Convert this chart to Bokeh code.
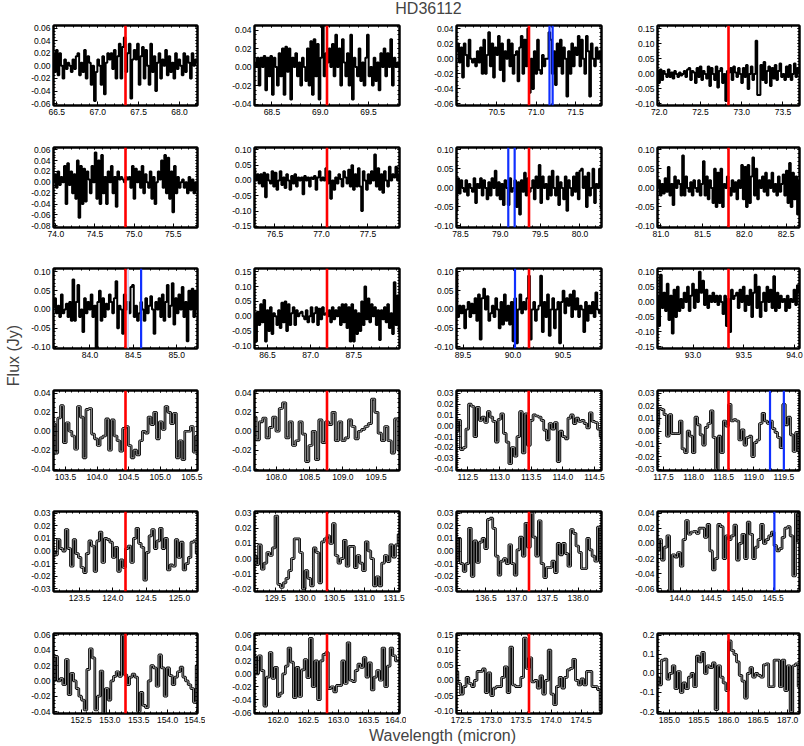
import numpy as np
from math import pi
from bokeh.plotting import figure
from bokeh.layouts import column, row
from bokeh.models import Range1d, FixedTicker, PrintfTickFormatter, LinearAxis, Label, Span
from bokeh.embed import file_html
from bokeh.resources import INLINE

titles = ["CO 39-38", "CO 38-37", "CO 37-36", "CO 36-35",
          "CO 35-34", "CO 34-33", "CO 33-32", "CO 32-31",
          "CO 31-30", "CO 30-29", "CO 29-28", "CO 28-27",
          "CO 25-24", "CO 24-23", "CO 23-22", "CO 22-21",
          "CO 21-20", "CO 20-19", "CO 19-18", "CO 18-17",
          "CO 17-16", "CO 16-15", "CO 15-14", "CO 14-13"]
line_centers = [67.34, 69.07, 70.91, 72.84, 74.89, 77.06, 79.36, 81.81,
                84.41, 87.19, 90.16, 93.35, 104.45, 108.76, 113.46, 118.58,
                124.19, 130.37, 137.20, 144.78, 153.27, 162.81, 173.63, 186.00]
x_lo = [66.46, 68.32, 69.99, 71.98, 73.97, 76.28, 78.45, 80.96,
        83.58, 86.35, 89.435, 92.65, 103.31, 107.67, 112.32, 117.40,
        123.11, 129.15, 136.02, 143.635, 152.02, 161.61, 172.42, 184.80]
x_hi = [68.22, 69.82, 71.83, 73.70, 75.81, 77.84, 80.27, 82.66,
        85.24, 88.03, 90.885, 94.05, 105.59, 109.85, 114.61, 119.76,
        125.27, 131.59, 138.38, 145.925, 154.52, 164.01, 174.84, 187.20]
y_lo = [-0.063, -0.0415, -0.062, -0.105, -0.083, -0.154, -0.104, -0.104,
        -0.104, -0.109, -0.104, -0.155, -0.0414, -0.0414, -0.0412, -0.031,
        -0.032, -0.0217, -0.032, -0.0634, -0.0426, -0.0615, -0.109, -0.21]
y_hi = [0.064, 0.045, 0.044, 0.161, 0.064, 0.108, 0.106, 0.106,
        0.109, 0.161, 0.109, 0.111, 0.043, 0.043, 0.0325, 0.032,
        0.0313, 0.031, 0.0313, 0.042, 0.062, 0.0625, 0.155, 0.209]
x_ticks = [[66.5, 67.0, 67.5, 68.0], [68.5, 69.0, 69.5], [70.5, 71.0, 71.5], [72.0, 72.5, 73.0, 73.5],
           [74.0, 74.5, 75.0, 75.5], [76.5, 77.0, 77.5], [78.5, 79.0, 79.5, 80.0], [81.0, 81.5, 82.0, 82.5],
           [84.0, 84.5, 85.0], [86.5, 87.0, 87.5], [89.5, 90.0, 90.5], [93.0, 93.5, 94.0],
           [103.5, 104.0, 104.5, 105.0, 105.5], [108.0, 108.5, 109.0, 109.5],
           [112.5, 113.0, 113.5, 114.0, 114.5], [117.5, 118.0, 118.5, 119.0, 119.5],
           [123.5, 124.0, 124.5, 125.0], [129.5, 130.0, 130.5, 131.0, 131.5],
           [136.5, 137.0, 137.5, 138.0], [144.0, 144.5, 145.0, 145.5],
           [152.5, 153.0, 153.5, 154.0, 154.5], [162.0, 162.5, 163.0, 163.5, 164.0],
           [172.5, 173.0, 173.5, 174.0, 174.5], [185.0, 185.5, 186.0, 186.5, 187.0]]
y_ticks = [[-0.06, -0.04, -0.02, 0.0, 0.02, 0.04, 0.06], [-0.04, -0.02, 0.0, 0.02, 0.04],
           [-0.06, -0.04, -0.02, 0.0, 0.02, 0.04], [-0.10, -0.05, 0.0, 0.05, 0.10, 0.15],
           [-0.08, -0.06, -0.04, -0.02, 0.0, 0.02, 0.04, 0.06], [-0.15, -0.10, -0.05, 0.0, 0.05, 0.10],
           [-0.10, -0.05, 0.0, 0.05, 0.10], [-0.10, -0.05, 0.0, 0.05, 0.10],
           [-0.10, -0.05, 0.0, 0.05, 0.10], [-0.10, -0.05, 0.0, 0.05, 0.10, 0.15],
           [-0.10, -0.05, 0.0, 0.05, 0.10], [-0.15, -0.10, -0.05, 0.0, 0.05, 0.10],
           [-0.04, -0.02, 0.0, 0.02, 0.04], [-0.04, -0.02, 0.0, 0.02, 0.04],
           [-0.04, -0.03, -0.02, -0.01, 0.0, 0.01, 0.02, 0.03], [-0.03, -0.02, -0.01, 0.0, 0.01, 0.02, 0.03],
           [-0.03, -0.02, -0.01, 0.0, 0.01, 0.02, 0.03], [-0.02, -0.01, 0.0, 0.01, 0.02, 0.03],
           [-0.03, -0.02, -0.01, 0.0, 0.01, 0.02, 0.03], [-0.06, -0.04, -0.02, 0.0, 0.02, 0.04],
           [-0.04, -0.02, 0.0, 0.02, 0.04, 0.06], [-0.06, -0.04, -0.02, 0.0, 0.02, 0.04, 0.06],
           [-0.10, -0.05, 0.0, 0.05, 0.10, 0.15], [-0.2, -0.1, 0.0, 0.1, 0.2]]
y_formats = ["%.2f"] * 23 + ["%.1f"]
blue_lines = [[], [], [71.17, 71.21], [], [], [], [79.10, 79.18], [],
              [84.59], [], [90.02], [], [], [], [], [119.27, 119.50],
              [], [], [], [145.52], [], [], [], []]
faint_lines = [[], [], [], [], [], [], [], [],
               [84.44], [], [], [], [], [], [], [],
               [], [], [], [], [], [], [], []]

flux_01 = [0.02, -0.01, 0.025, -0.015, 0.02, 0.0, -0.02, 0.01, -0.005, 0.005, 0.0, -0.01, 0.01, -0.005, 0.015, 0.02, -0.015, 0.005, -0.01, 0.025, -0.02, 0.015, 0.005, -0.03, 0.0, -0.056, -0.01, 0.01, 0.0, -0.03, 0.015, -0.045, 0.005, 0.02, 0.01, 0.02, -0.005, 0.025, -0.02, 0.015, 0.035, -0.02, 0.03, 0.045, -0.01, 0.02, 0.035, -0.052, 0.01, 0.025, 0.01, 0.035, -0.03, 0.015, 0.03, -0.02, 0.025, 0.0, -0.03, 0.035, -0.01, 0.015, -0.04, 0.005, 0.02, -0.02, 0.01, 0.0, 0.025, -0.015, 0.015, -0.01, 0.005, -0.02, 0.02, -0.005, 0.01, 0.0, -0.015, 0.02, -0.01, 0.015, 0.005, -0.02, 0.02, 0.0, 0.01, 0.005]
flux_02 = [0.005, 0.0, 0.01, -0.02, 0.01, 0.0, 0.012, -0.025, 0.01, -0.01, 0.012, -0.03, 0.01, 0.0, -0.02, 0.015, -0.01, 0.02, -0.03, 0.022, -0.005, 0.02, -0.035, 0.01, 0.0, 0.015, -0.01, 0.005, -0.02, 0.01, 0.0, -0.015, 0.02, -0.02, 0.028, -0.03, 0.03, -0.01, 0.025, -0.035, 0.01, 0.045, -0.01, 0.015, 0.005, 0.02, 0.0, 0.025, -0.01, 0.035, 0.0, 0.02, -0.02, 0.03, 0.005, -0.01, 0.015, -0.02, 0.035, -0.035, 0.01, 0.0, -0.01, 0.02, -0.015, 0.005, -0.02, 0.01, 0.035, -0.01, 0.0, -0.02, 0.01, -0.015, 0.005, -0.025, 0.015, 0.0, 0.02, -0.01, 0.015, 0.0, 0.03, -0.02, 0.01, 0.0, 0.005, 0.0]
flux_03 = [0.01, 0.02, -0.005, 0.015, -0.025, 0.02, 0.005, -0.01, 0.025, 0.0, -0.005, 0.0, -0.01, 0.01, -0.005, 0.015, -0.02, 0.025, -0.02, 0.005, 0.035, -0.01, 0.02, -0.025, 0.015, 0.005, 0.03, -0.015, 0.02, -0.03, 0.01, 0.0, 0.025, -0.01, 0.02, -0.02, 0.005, 0.01, -0.03, 0.015, 0.03, -0.02, 0.025, -0.01, 0.04, -0.045, 0.0, -0.04, 0.01, -0.02, 0.025, -0.015, -0.02, 0.005, -0.01, 0.0, 0.0, 0.035, 0.025, -0.02, 0.01, -0.035, 0.02, -0.01, 0.025, -0.02, 0.015, 0.0, -0.05, 0.01, -0.02, 0.02, -0.01, 0.015, 0.005, 0.03, -0.01, 0.025, 0.0, -0.02, 0.03, 0.01, -0.05, 0.02, 0.0, -0.01, 0.015, 0.0, 0.01, -0.005]
flux_04 = [0.01, -0.03, 0.015, -0.02, 0.01, 0.0, -0.01, 0.015, -0.01, 0.005, -0.015, 0.01, 0.0, -0.01, 0.005, -0.005, 0.0, 0.01, -0.01, 0.015, 0.02, -0.02, 0.01, 0.005, -0.03, 0.02, -0.01, 0.025, -0.02, 0.01, 0.0, -0.015, 0.025, -0.04, 0.02, 0.0, -0.02, 0.025, -0.045, 0.01, 0.02, -0.03, 0.0, -0.09, 0.01, 0.005, 0.02, -0.02, 0.025, 0.005, -0.01, 0.02, 0.0, -0.03, 0.02, -0.01, 0.03, -0.05, 0.0, 0.025, -0.02, 0.0, 0.11, -0.07, -0.07, 0.03, -0.02, 0.04, -0.03, 0.01, 0.025, -0.04, 0.02, -0.015, 0.03, -0.02, 0.01, 0.035, -0.01, 0.0, -0.02, 0.025, -0.01, 0.03, -0.02, 0.0, 0.035, -0.01, 0.02, 0.005]
flux_05 = [0.0, 0.015, -0.01, 0.02, -0.005, 0.01, 0.0, 0.03, -0.04, 0.035, -0.005, 0.02, -0.02, 0.015, -0.03, 0.04, -0.065, 0.03, -0.04, 0.025, -0.035, 0.02, 0.005, -0.02, 0.03, 0.0, 0.055, -0.03, 0.04, -0.04, 0.05, -0.02, 0.01, -0.04, 0.02, 0.0, 0.03, -0.02, 0.01, -0.045, 0.02, 0.005, 0.01, 0.005, 0.0, 0.01, 0.005, 0.01, -0.01, 0.03, -0.03, 0.025, 0.0, 0.02, -0.01, 0.03, -0.02, 0.015, 0.0, -0.01, 0.02, -0.03, 0.01, -0.04, 0.0, 0.02, 0.005, 0.04, -0.01, 0.05, -0.02, 0.045, -0.03, 0.02, -0.055, 0.03, -0.02, 0.01, -0.01, 0.0, 0.005, -0.01, 0.0, -0.02, 0.01, -0.015, 0.005, -0.02, 0.0, -0.015]
flux_06 = [0.035, 0.0, 0.02, -0.01, 0.02, -0.02, 0.025, -0.055, 0.02, 0.0, -0.01, 0.03, -0.02, 0.025, -0.03, 0.0, 0.03, -0.015, 0.01, -0.025, 0.02, 0.0, -0.03, 0.015, -0.01, 0.02, -0.02, 0.01, 0.0, 0.01, -0.045, 0.015, 0.0, 0.01, -0.02, 0.01, 0.005, 0.015, -0.03, 0.01, 0.03, 0.0, 0.01, 0.0, 0.04, -0.01, 0.03, -0.06, 0.0, -0.03, 0.01, -0.01, 0.02, 0.005, -0.02, 0.03, 0.01, -0.01, 0.035, -0.02, 0.05, -0.03, 0.02, -0.02, 0.04, -0.02, -0.1, 0.03, 0.0, -0.03, 0.02, -0.01, 0.03, 0.0, 0.085, -0.02, 0.04, -0.03, 0.02, -0.04, 0.03, 0.0, -0.02, 0.045, 0.0, 0.02, 0.01, 0.045, 0.0, 0.02]
flux_07 = [-0.06, 0.025, -0.015, 0.02, 0.0, -0.01, 0.02, -0.02, 0.01, 0.0, -0.01, 0.025, -0.04, 0.01, 0.0, 0.025, -0.02, 0.02, 0.0, -0.03, 0.015, -0.02, 0.025, 0.0, 0.045, -0.02, 0.015, -0.03, 0.01, -0.045, 0.02, 0.0, -0.045, 0.025, -0.01, 0.0, 0.02, -0.05, 0.015, -0.07, 0.02, -0.01, 0.04, -0.02, 0.025, -0.01, 0.0, 0.02, -0.03, 0.03, 0.0, 0.06, -0.04, 0.03, 0.0, 0.01, -0.03, 0.03, -0.02, 0.045, 0.0, -0.02, 0.03, -0.045, 0.015, 0.0, -0.03, 0.03, -0.06, 0.02, 0.0, -0.02, 0.03, -0.01, 0.04, -0.03, 0.045, 0.05, 0.0, 0.03, -0.05, 0.04, -0.02, 0.0, 0.05, -0.04, 0.01, 0.0, 0.05, -0.055]
flux_08 = [0.0, 0.02, -0.02, 0.01, -0.015, 0.025, -0.01, 0.055, -0.02, 0.01, -0.045, 0.03, 0.0, 0.02, 0.01, -0.02, 0.085, -0.02, 0.03, 0.0, -0.01, 0.015, -0.02, 0.02, 0.0, -0.01, 0.02, -0.02, 0.01, 0.07, -0.02, 0.03, -0.03, 0.02, 0.0, -0.04, 0.05, -0.05, 0.04, -0.04, 0.05, -0.05, 0.01, 0.0, 0.03, 0.0, -0.02, 0.02, -0.01, 0.015, -0.03, 0.02, 0.0, 0.06, -0.03, 0.055, -0.05, 0.06, -0.04, 0.03, 0.08, -0.02, 0.05, -0.03, 0.02, 0.0, 0.03, -0.01, 0.04, -0.02, 0.02, 0.0, 0.04, -0.01, 0.01, -0.02, 0.03, -0.01, 0.01, 0.035, -0.02, 0.045, -0.04, 0.065, -0.05, 0.04, -0.03, 0.03, -0.07, 0.02]
flux_09 = [0.005, 0.03, -0.01, 0.01, -0.02, 0.04, -0.01, 0.0, 0.015, -0.02, 0.02, -0.03, 0.08, -0.03, 0.02, 0.065, -0.02, 0.0, -0.06, 0.03, -0.01, 0.02, 0.0, 0.04, -0.02, 0.01, -0.105, 0.02, 0.05, -0.03, 0.03, -0.02, 0.015, 0.0, 0.04, 0.02, -0.01, 0.03, 0.075, -0.05, 0.01, 0.0, -0.065, 0.04, 0.0, 0.02, -0.01, 0.06, 0.065, -0.02, 0.01, -0.03, -0.01, 0.02, 0.0, -0.03, 0.03, -0.01, 0.01, 0.035, 0.0, -0.065, 0.02, 0.0, 0.03, -0.02, 0.04, -0.03, 0.02, 0.065, -0.02, 0.01, 0.07, -0.04, 0.03, -0.01, 0.04, 0.0, 0.06, -0.02, 0.02, -0.085, 0.05, 0.0, 0.055, -0.02, 0.05, 0.0]
flux_10 = [0.01, -0.085, 0.015, -0.03, 0.04, -0.02, 0.055, -0.085, 0.02, -0.05, 0.03, -0.06, 0.01, 0.0, -0.03, 0.02, -0.04, 0.045, -0.02, 0.05, -0.05, 0.04, -0.03, 0.01, 0.03, -0.03, 0.02, 0.0, 0.01, 0.015, 0.0, -0.01, 0.02, -0.02, 0.0, 0.03, -0.02, 0.01, 0.03, -0.03, 0.025, -0.01, 0.03, 0.005, 0.01, 0.0, 0.02, -0.02, 0.03, -0.01, 0.02, 0.0, 0.03, -0.03, 0.04, -0.02, 0.04, -0.04, 0.03, -0.085, 0.04, -0.085, 0.02, -0.06, 0.01, -0.05, 0.05, -0.03, 0.1, -0.01, 0.06, -0.02, 0.04, 0.0, 0.03, -0.03, 0.02, -0.08, 0.02, -0.01, 0.03, -0.02, 0.04, -0.04, 0.01, -0.06, 0.115, -0.03, 0.07, -0.05]
flux_11 = [0.1, -0.02, 0.01, -0.01, 0.01, -0.05, 0.0, 0.02, -0.02, 0.015, -0.01, 0.03, -0.03, 0.04, -0.08, 0.03, 0.055, 0.0, 0.035, -0.03, -0.01, 0.01, -0.02, 0.03, 0.0, -0.05, 0.02, -0.04, 0.04, -0.03, 0.01, -0.04, 0.02, -0.085, 0.03, -0.09, 0.0, 0.04, -0.01, 0.02, 0.0, 0.03, 0.09, -0.08, 0.0, 0.02, -0.03, 0.0, 0.01, 0.09, -0.06, 0.02, -0.02, 0.04, -0.07, 0.0, 0.03, -0.05, 0.0, 0.02, -0.09, 0.02, 0.05, -0.01, 0.03, 0.01, 0.04, -0.02, 0.05, 0.0, 0.03, -0.02, 0.01, 0.0, -0.06, 0.02, -0.03, 0.01, -0.01, 0.02, -0.02, 0.045, 0.0, -0.01, 0.0]
flux_12 = [0.02, -0.08, 0.09, -0.02, 0.03, -0.03, 0.06, -0.06, 0.02, -0.105, 0.04, -0.05, 0.05, -0.03, 0.01, -0.02, 0.03, 0.0, 0.05, -0.03, 0.02, 0.06, -0.02, 0.04, 0.0, 0.1, 0.03, 0.07, -0.01, 0.04, -0.02, 0.02, 0.0, 0.03, 0.0, 0.02, -0.01, 0.02, 0.0, -0.04, 0.02, -0.08, 0.01, -0.1, 0.04, 0.01, 0.02, 0.03, -0.02, 0.04, 0.0, 0.05, -0.03, 0.02, -0.01, 0.04, -0.05, 0.03, 0.09, -0.02, 0.05, -0.05, 0.0, 0.03, -0.03, 0.05, 0.0, 0.04, -0.02, 0.085, -0.03, 0.03, -0.02, 0.02, 0.0, 0.01, -0.03, 0.02, -0.02, 0.01, 0.0, 0.04, -0.01, 0.055, 0.03]
flux_13 = [0.008, -0.023, 0.014, 0.027, -0.012, 0.009, 0.0, -0.005, -0.019, 0.026, 0.015, -0.028, 0.023, 0.024, -0.003, -0.008, -0.015, -0.007, -0.005, 0.013, -0.02, 0.012, -0.005, -0.01, -0.021, 0.003, 0.005, -0.015, -0.028, -0.02, -0.025, -0.01, 0.0, -0.002, 0.015, 0.007, 0.02, -0.008, 0.01, 0.002, 0.026, 0.02, 0.008, 0.019, -0.028, -0.01, -0.03, 0.0, 0.0, 0.005, -0.022, -0.005]
flux_14 = [0.015, -0.009, 0.01, 0.014, -0.007, 0.004, 0.015, 0.0, 0.024, 0.03, -0.007, 0.01, -0.015, -0.01, 0.01, -0.003, -0.032, -0.015, 0.0, -0.03, 0.012, -0.012, 0.01, 0.007, 0.02, -0.01, 0.01, -0.01, -0.007, 0.012, 0.005, -0.008, 0.0, 0.002, 0.005, 0.008, 0.034, 0.02, -0.002, -0.01, 0.005, -0.01, -0.023, 0.013, -0.02]
flux_15 = [-0.005, 0.005, -0.022, -0.02, -0.003, 0.02, 0.018, -0.01, 0.017, 0.005, 0.008, 0.003, 0.013, 0.008, 0.004, -0.015, 0.006, 0.011, -0.007, -0.015, -0.035, -0.02, -0.028, -0.01, 0.013, -0.025, 0.011, -0.018, 0.005, 0.01, 0.009, 0.008, 0.005, -0.004, -0.013, 0.002, -0.003, 0.003, -0.033, -0.005, -0.01, -0.012, 0.007, 0.01, 0.002, 0.007, 0.004, 0.005, 0.002, -0.002, 0.012, 0.004, 0.003, -0.003, -0.01]
flux_16 = [0.005, 0.018, 0.017, 0.013, -0.004, 0.013, -0.002, -0.002, -0.002, 0.008, -0.014, -0.017, 0.0, -0.004, -0.017, 0.011, 0.005, -0.003, -0.011, 0.003, 0.006, 0.016, -0.005, -0.03, -0.004, -0.017, 0.008, 0.004, 0.021, 0.008, 0.009, 0.008, -0.007, 0.001, -0.011, -0.005, -0.004, -0.02, -0.009, -0.007, 0.006, 0.014, 0.008, 0.006, 0.008, 0.002, -0.001, -0.005, -0.013, 0.021, 0.005, 0.011, -0.003, -0.016, -0.001, -0.016]
flux_17 = [0.0, -0.003, 0.009, 0.002, 0.0, 0.017, 0.002, -0.012, 0.009, -0.002, -0.005, -0.013, -0.017, -0.002, 0.008, 0.004, -0.016, 0.008, 0.015, -0.009, 0.01, 0.009, 0.007, -0.005, 0.003, -0.016, -0.007, -0.013, 0.002, 0.004, -0.009, 0.01, 0.018, 0.006, 0.003, -0.023, -0.001, 0.012, 0.017, 0.002, 0.008, 0.018, 0.002, 0.01, -0.015, -0.011, -0.012, 0.009, -0.005, 0.007, -0.015, -0.01, -0.005, 0.007, 0.008, -0.002]
flux_18 = [0.002, -0.004, 0.009, -0.007, -0.003, 0.004, 0.002, 0.007, 0.028, -0.017, -0.019, -0.016, -0.013, -0.008, 0.0, 0.013, 0.013, 0.004, -0.02, -0.008, -0.013, -0.018, 0.007, 0.004, -0.016, 0.011, 0.013, 0.015, 0.01, 0.023, 0.002, -0.003, 0.0, 0.012, -0.005, 0.008, 0.008, -0.006, 0.002, -0.003, -0.008, 0.011, 0.005, 0.0, -0.018, -0.012, -0.018, -0.003, 0.002, -0.002, 0.009, 0.001, 0.009, 0.016]
flux_19 = [-0.008, 0.01, -0.01, -0.016, -0.01, 0.018, -0.02, 0.008, -0.009, 0.007, 0.01, 0.002, 0.025, 0.026, 0.018, -0.004, -0.019, -0.008, -0.006, -0.01, 0.005, -0.01, -0.019, 0.001, 0.011, -0.004, 0.022, 0.003, 0.03, 0.011, -0.004, 0.024, -0.01, -0.021, -0.013, -0.013, -0.008, -0.017, 0.006, -0.003, 0.006, -0.002, -0.012, 0.017, 0.014, 0.004, -0.001, -0.014, -0.014, 0.01, 0.001, -0.004, -0.008, 0.019, -0.009]
flux_20 = [-0.01, 0.005, -0.022, -0.005, 0.01, -0.063, -0.015, -0.018, -0.012, -0.03, 0.005, 0.03, 0.012, 0.015, 0.016, 0.013, 0.02, 0.02, 0.008, 0.025, -0.01, -0.035, -0.02, 0.025, 0.022, -0.02, 0.01, 0.005, 0.01, 0.024, -0.022, 0.0, 0.012, -0.02, 0.028, 0.012, -0.02, -0.005, 0.005, 0.025, 0.0, 0.005, 0.01, 0.015, -0.003, -0.01, -0.007, 0.008, 0.02, 0.022, 0.01, -0.043, 0.04, 0.002]
flux_21 = [0.0, 0.032, 0.0, 0.003, -0.005, 0.028, -0.018, 0.01, 0.0, -0.01, -0.02, -0.025, -0.038, 0.015, 0.042, 0.03, -0.038, -0.02, 0.013, -0.05, -0.01, -0.025, 0.0, 0.006, 0.012, 0.006, 0.06, 0.008, -0.005, 0.005, 0.009, 0.005, -0.04, -0.015, -0.032, -0.035, 0.0, 0.02, 0.017, -0.007, 0.034, 0.017, -0.02, 0.017, 0.007, -0.005, 0.005, 0.012, 0.018, 0.005, 0.0, -0.005, -0.01, -0.028, 0.02]
flux_22 = [0.027, 0.0, 0.028, 0.005, -0.05, -0.005, 0.033, -0.007, 0.01, -0.035, -0.03, 0.0, 0.012, 0.04, 0.018, -0.037, 0.01, -0.035, 0.006, 0.022, -0.006, 0.055, -0.02, 0.02, -0.04, 0.02, 0.03, 0.033, -0.023, -0.02, -0.028, -0.018, -0.018, 0.02, -0.015, 0.048, -0.01, -0.012, 0.005, 0.015, 0.01, 0.025, -0.005, 0.017, -0.025, -0.005, 0.005, -0.01, 0.04, -0.02, 0.012, 0.04, 0.028, 0.02, 0.02]
flux_23 = [0.03, -0.01, -0.045, -0.02, 0.01, -0.01, -0.02, 0.0, 0.03, 0.03, 0.038, -0.04, 0.025, -0.05, -0.025, -0.02, -0.02, 0.01, 0.045, -0.04, 0.11, -0.015, -0.02, -0.02, 0.01, 0.14, 0.04, 0.075, -0.005, 0.0, -0.025, 0.015, -0.045, 0.0, 0.1, -0.045, -0.08, -0.02, 0.01, -0.025, 0.01, 0.035, 0.04, 0.07, 0.0, -0.015, 0.005, -0.015, 0.03, 0.03, -0.02, -0.02, -0.03, -0.1]
flux_24 = [-0.02, -0.06, 0.07, 0.075, -0.03, 0.0, 0.04, -0.08, 0.01, -0.1, -0.05, -0.08, -0.02, 0.0, -0.07, 0.09, 0.06, 0.11, 0.0, 0.04, 0.03, 0.055, -0.19, 0.04, -0.02, -0.05, -0.09, 0.17, 0.12, 0.1, 0.06, -0.01, -0.04, -0.13, 0.0, 0.03, -0.02, 0.0, -0.01, -0.02, 0.045, 0.05, -0.07, -0.07, 0.07, 0.07, -0.07, 0.07, -0.09, 0.04, -0.2, 0.04, 0.05, -0.07]

fluxes = [flux_01, flux_02, flux_03, flux_04, flux_05, flux_06, flux_07, flux_08,
          flux_09, flux_10, flux_11, flux_12, flux_13, flux_14, flux_15, flux_16,
          flux_17, flux_18, flux_19, flux_20, flux_21, flux_22, flux_23, flux_24]

FONT = "Liberation Sans"
TICK_SIZE = "8.5px"

# layout geometry (pixels)
TOP_H = 18
TOP_OVERLAP = 8
col_w = [181, 201, 202, 196]
col_bl = [29, 49, 50, 49]
col_br = [8, 7, 7, 5]
row_h = [115, 122, 121, 122, 121, 116]
row_bt = [15, 22, 21, 22, 21, 22]
row_bb = [20, 20, 20, 20, 20, 14]
FRAME_H = 80


def minor_list(ticks, lo, hi, n):
    step = (ticks[1] - ticks[0]) / n
    start = ticks[0] - step * int((ticks[0] - lo) / step + 1)
    out = []
    v = start
    while v <= hi + 1e-9:
        if v >= lo - 1e-9:
            out.append(round(v, 6))
        v += step
    return out


def base_axis(ax):
    ax.axis_line_color = "black"
    ax.axis_line_width = 2
    ax.major_tick_out = 0
    ax.minor_tick_out = 0
    ax.major_tick_line_color = "black"
    ax.minor_tick_line_color = "black"


def label_axis(ax, ticks, minors, fmt):
    base_axis(ax)
    ax.ticker = FixedTicker(ticks=ticks, minor_ticks=minors)
    ax.formatter = PrintfTickFormatter(format=fmt)
    ax.major_tick_in = 4
    ax.minor_tick_in = 2
    ax.major_label_text_font = FONT
    ax.major_label_text_font_size = TICK_SIZE
    ax.major_label_text_color = "black"
    ax.major_label_standoff = 3


def mirror_axis(ax, ticks, minors):
    # tick marks only (no labels) on the opposite side, IDL style
    base_axis(ax)
    ax.ticker = FixedTicker(ticks=[], minor_ticks=sorted(ticks + minors))
    ax.major_tick_in = 0
    ax.minor_tick_in = 2
    ax.major_label_standoff = 0


def make_panel(i):
    r, c = divmod(i, 4)
    w = col_w[c]
    h = row_h[r]
    p = figure(width=w, height=h,
               x_range=Range1d(x_lo[i], x_hi[i]), y_range=Range1d(y_lo[i], y_hi[i]),
               output_backend="svg", toolbar_location=None,
               x_axis_location=None, y_axis_location=None,
               min_border_left=col_bl[c], min_border_right=col_br[c],
               min_border_top=row_bt[r], min_border_bottom=row_bb[r])
    p.grid.visible = False
    p.outline_line_color = "black"
    p.outline_line_width = 2
    p.background_fill_color = "white"
    p.border_fill_color = None

    xt = x_ticks[i]
    yt = y_ticks[i]
    ystep = yt[1] - yt[0]
    ny = 4 if abs(ystep - 0.02) < 1e-9 else 5
    xminor = minor_list(xt, x_lo[i], x_hi[i], 5)
    yminor = minor_list(yt, y_lo[i], y_hi[i], ny)

    ax = LinearAxis(); label_axis(ax, xt, xminor, "%.1f"); p.add_layout(ax, "below")
    ax = LinearAxis(); mirror_axis(ax, xt, xminor); p.add_layout(ax, "above")
    ax = LinearAxis(); label_axis(ax, yt, yminor, y_formats[i]); p.add_layout(ax, "left")
    ax = LinearAxis(); mirror_axis(ax, yt, yminor); p.add_layout(ax, "right")

    y = fluxes[i]
    x = np.linspace(x_lo[i], x_hi[i], len(y))
    if r < 3:
        p.step(x, y, mode="center", line_color="black", line_width=2.0)
    else:
        p.step(x, y, mode="center", line_color="black", line_width=2.7)
        p.step(x, y, mode="center", line_color="#b4b4b4", line_width=0.8)

    for f in faint_lines[i]:
        p.add_layout(Span(location=f, dimension="height",
                          line_color="#c8c8f0", line_width=1.5))
    p.add_layout(Span(location=line_centers[i], dimension="height",
                      line_color="#ff0000", line_width=2.6))
    for b in blue_lines[i]:
        p.add_layout(Span(location=b, dimension="height",
                          line_color="#1030ff", line_width=2.2))

    fw = w - col_bl[c] - col_br[c]
    p.add_layout(Label(x=fw / 2, y=FRAME_H + 8, x_units="screen", y_units="screen",
                       text=titles[i], text_align="center", text_baseline="middle",
                       text_font=FONT, text_font_size="10.5px", text_color="black"))
    return p


def blank(w, h, **kw):
    p = figure(width=w, height=h, output_backend="svg", toolbar_location=None,
               x_axis_location=None, y_axis_location=None,
               x_range=Range1d(0, 1), y_range=Range1d(0, 1), min_border=0, **kw)
    p.grid.visible = False
    p.outline_line_color = None
    p.border_fill_color = None
    p.background_fill_color = None
    return p


panels = [make_panel(i) for i in range(24)]
grid = column(*[row(*panels[r * 4:(r + 1) * 4]) for r in range(6)])

grid_h = sum(row_h)
left_fig = blank(24, grid_h)
left_fig.add_layout(Label(x=13, y=grid_h - 345, x_units="screen", y_units="screen",
                          text="Flux (Jy)", angle=pi / 2, text_align="center",
                          text_baseline="middle", text_font=FONT, text_font_size="16px"))

total_w = 24 + sum(col_w)
top_fig = blank(total_w, TOP_H, margin=(0, 0, -TOP_OVERLAP, 0))
top_fig.add_layout(Label(x=428, y=TOP_H - 8, x_units="screen", y_units="screen",
                         text="HD36112", text_align="center", text_baseline="middle",
                         text_font=FONT, text_font_size="16px"))

bottom_fig = blank(total_w, 19)
bottom_fig.add_layout(Label(x=442, y=11, x_units="screen", y_units="screen",
                            text="Wavelength (micron)", text_align="center",
                            text_baseline="middle", text_font=FONT, text_font_size="16px"))

p = column(top_fig, row(left_fig, grid), bottom_fig)

open("out.html", "w").write(file_html(p, INLINE))
